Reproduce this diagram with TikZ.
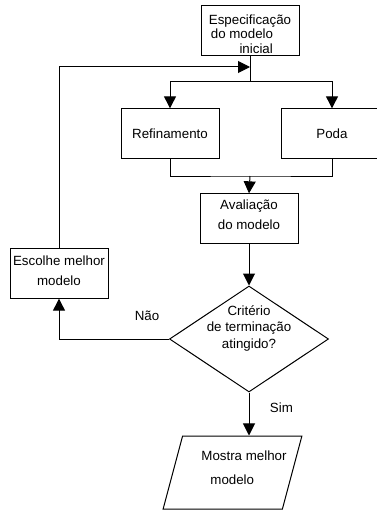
\documentclass[tikz,border=0pt]{standalone}
\usepackage{fontspec}
\setmainfont{Liberation Sans}
\usetikzlibrary{shapes.geometric, arrows.meta, positioning}

\begin{document}
\begin{tikzpicture}[
    x=0.75pt, y=-0.75pt,
    font=\fontsize{10pt}{12pt}\selectfont,
    box/.style={draw, line width=0.75pt, minimum width=73.5pt, minimum height=37pt, inner sep=0pt, align=center},
    flow/.style={-{Triangle[length=9pt,width=9pt]}, line width=0.75pt},
    link/.style={line width=0.75pt},
]
\useasboundingbox (0,0) rectangle (377,510);
\clip (0,0) rectangle (377,510);

\node[box, minimum height=37.5pt, align=left, font=\fontsize{10pt}{11pt}\selectfont,
      text height=34pt, text depth=0pt] (spec) at (250,31)
  {Especifica\c{c}\~ao\\\hspace*{1.5pt}do modelo\\\hspace*{23pt}inicial};
\node[box] (refin) at (170,133.5) {Refinamento};
\node[box, minimum width=76pt] (poda) at (332,133.5) {Poda};
\node[box, text height=16.5pt, text depth=0pt] (aval) at (249,218.5) {Avalia\c{c}\~ao\\[3pt]do modelo};
\node[box, text height=18pt, text depth=0pt] (escolhe) at (59,273.5) {Escolhe melhor\\[3pt]modelo};
\node[diamond, draw, line width=0.75pt, aspect=1.5, inner sep=0pt, align=center,
      minimum width=119.25pt, minimum height=79.5pt,
      font=\fontsize{10pt}{12.4pt}\selectfont, text height=14.2pt, text depth=0pt] (crit) at (249,339)
  {Crit\'erio\\de terminação\\atingido?};
\node[trapezium, draw, line width=0.75pt, trapezium left angle=64, trapezium right angle=116,
      trapezium stretches=true, inner sep=0pt, text height=8pt, text depth=0pt,
      minimum width=104.25pt, minimum height=54.75pt] (mostra) at (232.5,472.5) {\hspace*{20pt}};
\node[align=left, inner sep=0pt] (mostratxt) at (244,468) {Mostra melhor\\[6pt]\hspace*{6.75pt}modelo};

% junctions
\coordinate (jtop) at (250,82);
\coordinate (jbot) at (250,176);
\coordinate (jloop) at (250,67);

\draw[link] (spec.south) -- (jtop);
\draw[flow] (jtop) -| (refin.north);
\draw[flow] (jtop) -| (poda.north);
\draw[link] (refin.south) |- (jbot) -| (poda.south);
\draw[flow] (jbot) -- (aval.north);
\draw[flow] (aval.south) -- (crit.north);
\draw[flow] (crit.west) -| node[pos=0.1, above=10pt]{N\~ao} (escolhe.south);
\draw[flow] (escolhe.north) |- (jloop);
\draw[flow] (crit.south) -- node[pos=0.36, right=12pt]{Sim} (crit.south |- mostra.north);
\end{tikzpicture}
\end{document}
